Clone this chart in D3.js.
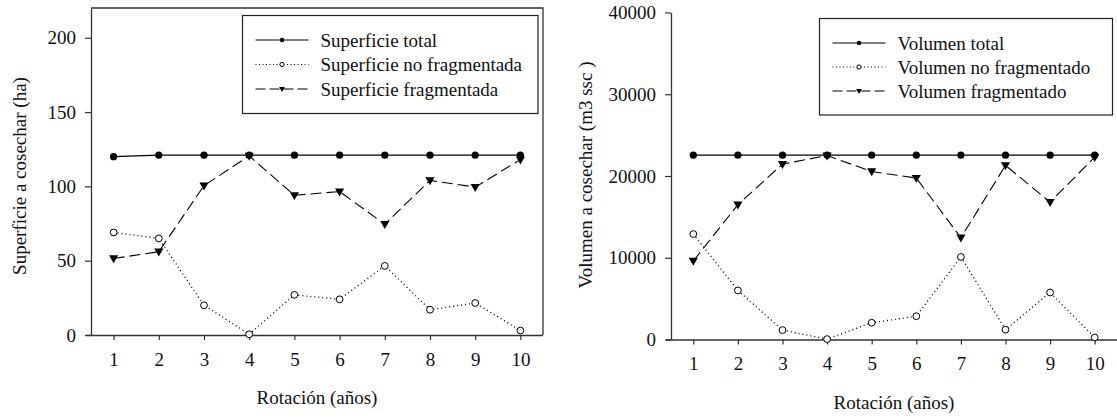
<!DOCTYPE html>
<html>
<head>
<meta charset="utf-8">
<script src="https://cdn.jsdelivr.net/npm/d3@7"></script>
<style>
  body { margin: 0; background: #fff; }
  svg text { font-family: "Liberation Serif", Tinos, "Times New Roman", Times, "DejaVu Serif", serif !important; fill: #111; }
</style>
</head>
<body>
<div id="chart"></div>
<script>
const years = [1, 2, 3, 4, 5, 6, 7, 8, 9, 10];

const supTotal = [120, 121, 121, 121, 121, 121, 121, 121, 121, 121];
const supNoFrag = [69, 65, 20, 0.5, 27, 24, 46.5, 17, 21.5, 3];
const supFrag = [51.5, 56, 100.5, 120.5, 94, 96.5, 74.5, 104, 99.5, 118];

const volTotal = [22550, 22550, 22550, 22550, 22550, 22550, 22550, 22550, 22550, 22550];
const volNoFrag = [12900, 6000, 1150, 50, 2050, 2850, 10100, 1200, 5750, 250];
const volFrag = [9600, 16500, 21450, 22500, 20550, 19750, 12450, 21300, 16800, 22300];

const supTicks = [0, 50, 100, 150, 200];
const volTicks = [0, 10000, 20000, 30000, 40000];

const supLabels = ['Superficie total', 'Superficie no fragmentada', 'Superficie fragmentada'];
const volLabels = ['Volumen total', 'Volumen no fragmentado', 'Volumen fragmentado'];

const width = 1117, height = 418;
const svg = d3.select('#chart').append('svg')
  .attr('width', width)
  .attr('height', height);

const styles = [
  { dash: null, marker: 'dot' },
  { dash: '1,3', marker: 'ring' },
  { dash: '11,5', marker: 'tri' }
];

function drawMarker(g, type, x, y, s) {
  if (type === 'dot') {
    g.append('circle').attr('cx', x).attr('cy', y).attr('r', 3.6 * s).attr('fill', '#000');
  } else if (type === 'ring') {
    g.append('circle').attr('cx', x).attr('cy', y).attr('r', 3.4 * s)
      .attr('fill', '#fff').attr('stroke', '#000').attr('stroke-width', 1);
  } else {
    const w = 4.6 * s, h = 4.2 * s;
    g.append('path')
      .attr('d', `M${x - w},${y - h * 0.75}L${x + w},${y - h * 0.75}L${x},${y + h * 1.15}Z`)
      .attr('fill', '#000');
  }
}

function drawPanel(cfg) {
  const xScale = d3.scaleLinear().domain([0.5, 10.5]).range([cfg.left, cfg.right]);
  const yScale = d3.scaleLinear().domain(cfg.yDomain).range([cfg.bottom, cfg.top]);

  const g = svg.append('g');

  if (cfg.box) {
    g.append('path')
      .attr('d', `M${cfg.left},${cfg.top}H${cfg.right}V${cfg.bottom}`)
      .attr('fill', 'none').attr('stroke', '#333').attr('stroke-width', 1.3);
  }

  const xAxis = g.append('g')
    .attr('transform', `translate(0,${cfg.bottom})`)
    .call(d3.axisBottom(xScale).tickValues(years).tickSize(5).tickPadding(12.5).tickSizeOuter(0));
  const yAxis = g.append('g')
    .attr('transform', `translate(${cfg.left},0)`)
    .call(d3.axisLeft(yScale).tickValues(cfg.yTicks).tickFormat(d3.format('d'))
      .tickSize(6).tickPadding(9).tickSizeOuter(0));

  [xAxis, yAxis].forEach((a) => {
    a.attr('font-family', null).attr('font-size', 19);
    a.select('.domain').attr('stroke', '#333').attr('stroke-width', 1.3);
    a.selectAll('.tick line').attr('stroke', '#333').attr('stroke-width', 1.2);
    a.selectAll('text').attr('fill', '#111');
  });
  // x-axis line starts a little left of the plot to join the 0 tick
  xAxis.select('.domain').attr('d', `M${cfg.left - 5},0.5H${cfg.right}`);

  cfg.series.forEach((vals, i) => {
    const line = d3.line()
      .x((d, j) => xScale(years[j]))
      .y((d) => yScale(d));
    g.append('path')
      .datum(vals)
      .attr('fill', 'none')
      .attr('stroke', '#000')
      .attr('stroke-width', i === 1 ? 1.3 : 1.1)
      .attr('stroke-dasharray', styles[i].dash)
      .attr('d', line);
  });
  cfg.series.forEach((vals, i) => {
    vals.forEach((v, j) => drawMarker(g, styles[i].marker, xScale(years[j]), yScale(v), 1));
  });

  // legend
  const lg = g.append('g');
  lg.append('rect')
    .attr('x', cfg.legend.x).attr('y', cfg.legend.y)
    .attr('width', cfg.legend.w).attr('height', cfg.legend.h)
    .attr('fill', '#fff').attr('stroke', '#222').attr('stroke-width', 1.2);
  cfg.labels.forEach((label, i) => {
    const ry = cfg.legend.rows[i];
    const x0 = cfg.legend.x + 13;
    lg.append('line')
      .attr('x1', x0).attr('x2', x0 + 53)
      .attr('y1', ry).attr('y2', ry)
      .attr('stroke', '#000').attr('stroke-width', i === 1 ? 1.2 : 1.1)
      .attr('stroke-dasharray', i === 1 ? '1,2.5' : (i === 2 ? '10,4' : null));
    drawMarker(lg, styles[i].marker, x0 + 26.5, ry, 0.62);
    lg.append('text')
      .attr('x', x0 + 65).attr('y', ry + 6.5)
      .attr('font-size', 19)
      .text(label);
  });

  g.append('text')
    .attr('x', (cfg.left + cfg.right) / 2)
    .attr('y', cfg.xTitleY)
    .attr('text-anchor', 'middle')
    .attr('font-size', 19)
    .text('Rotación (años)');

  g.append('text')
    .attr('transform', `translate(${cfg.yTitleX},${cfg.yTitleY}) rotate(-90)`)
    .attr('text-anchor', 'middle')
    .attr('font-size', 19)
    .text(cfg.yTitle);
}

drawPanel({
  left: 91, right: 543, top: 8, bottom: 335,
  yDomain: [0, 220], yTicks: supTicks, box: true,
  series: [supTotal, supNoFrag, supFrag],
  labels: supLabels,
  legend: { x: 242.5, y: 15.5, w: 295.5, h: 98, rows: [40, 64.5, 89] },
  xTitleY: 404, yTitleX: 26, yTitleY: 176,
  yTitle: 'Superficie a cosechar (ha)'
});

drawPanel({
  left: 671, right: 1117, top: 12.5, bottom: 339.5,
  yDomain: [0, 40000], yTicks: volTicks, box: false,
  series: [volTotal, volNoFrag, volFrag],
  labels: volLabels,
  legend: { x: 819.5, y: 18.5, w: 293, h: 96.5, rows: [43, 67, 91] },
  xTitleY: 409, yTitleX: 592, yTitleY: 175,
  yTitle: 'Volumen a cosechar (m3 ssc )'
});
</script>
</body>
</html>
